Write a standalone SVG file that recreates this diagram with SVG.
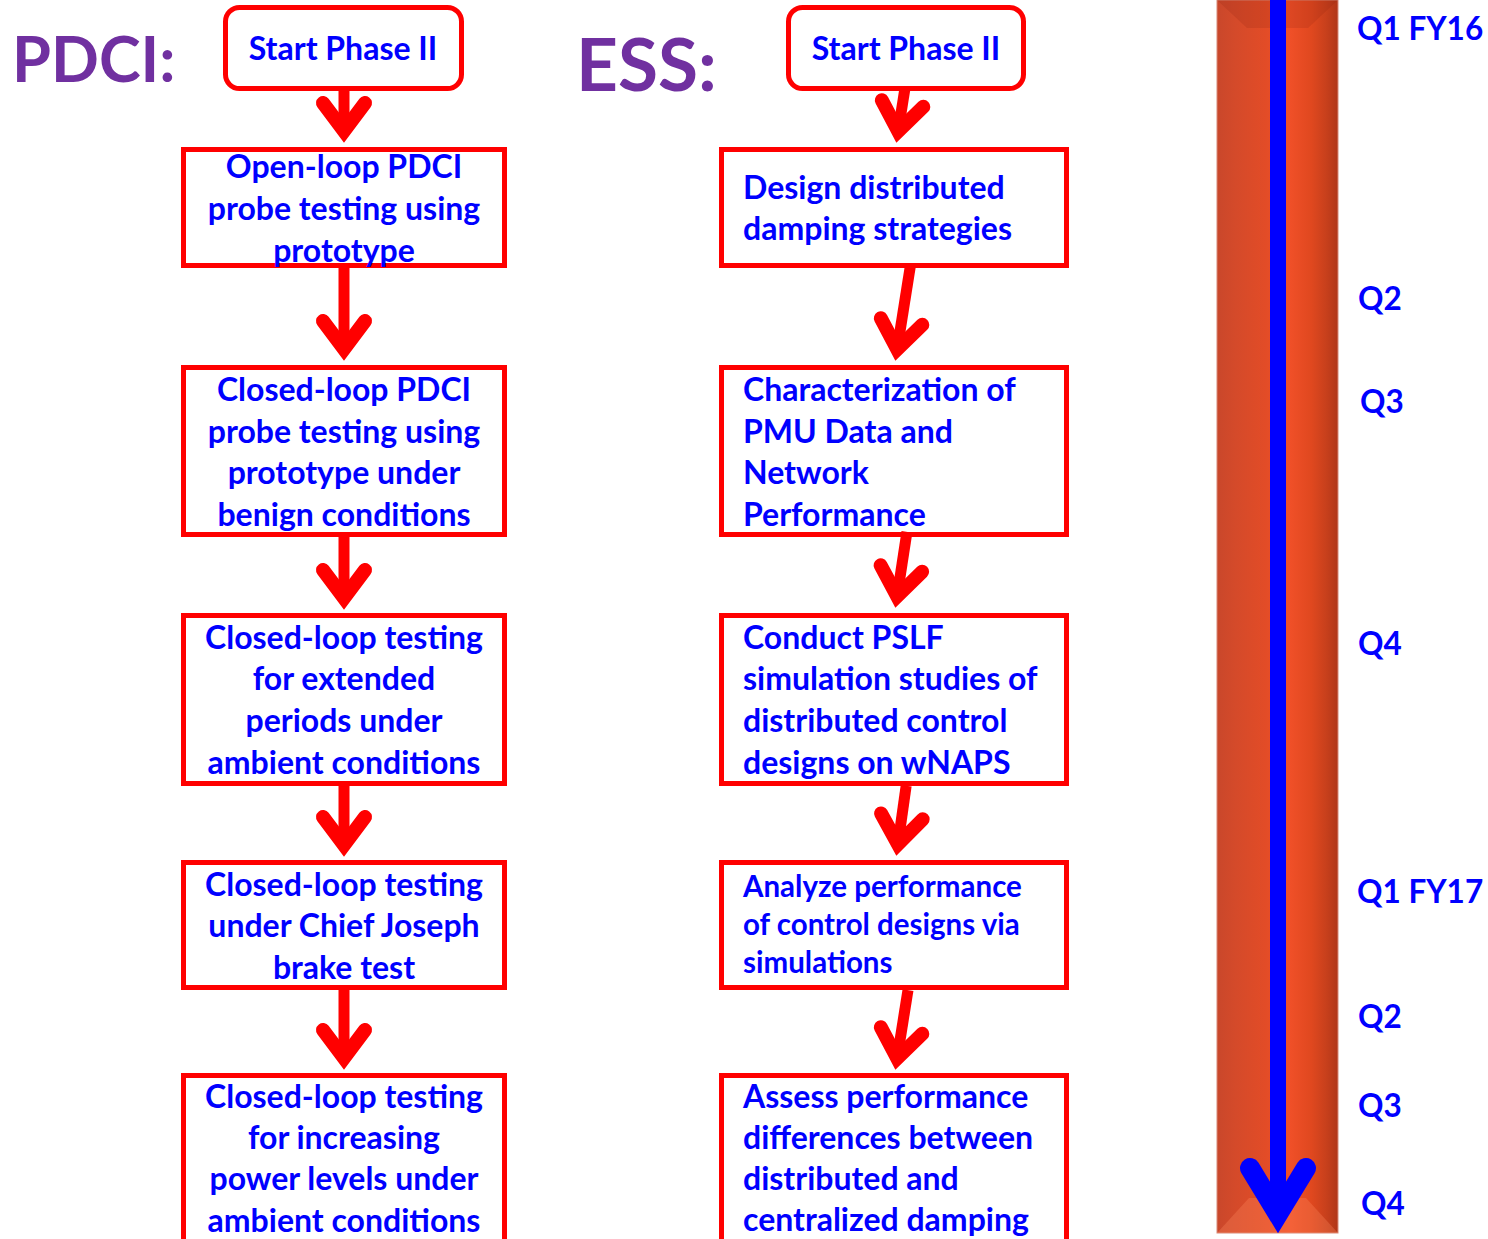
<svg xmlns="http://www.w3.org/2000/svg" width="1488" height="1239" viewBox="0 0 1488 1239">
<defs>
<style>
.box{fill:#ffffff;stroke:#ff0000;stroke-width:5}
.t{font-family:Lato,"Liberation Sans",sans-serif;font-weight:bold;font-size:32px;fill:#0000ff}
.c{text-anchor:middle}
.s{font-size:29.5px}
.ttl{font-family:Lato,"Liberation Sans",sans-serif;font-weight:bold;fill:#7030a0}
.q{font-family:Lato,"Liberation Sans",sans-serif;font-weight:bold;font-size:31.5px;fill:#0000ff}
.shaft{stroke:#ff0000;stroke-width:11;fill:none}
.head{stroke:#ff0000;stroke-width:14;fill:none;stroke-linecap:round;stroke-linejoin:miter}
</style>
<linearGradient id="bar" x1="0" y1="0" x2="1" y2="0">
<stop offset="0" stop-color="#c9472b"/>
<stop offset="0.15" stop-color="#d44a2a"/>
<stop offset="0.4" stop-color="#e24c27"/>
<stop offset="0.6" stop-color="#f05028"/>
<stop offset="0.78" stop-color="#e0481f"/>
<stop offset="0.9" stop-color="#c8401c"/>
<stop offset="1" stop-color="#b03618"/>
</linearGradient>
</defs>

<g id="timeline">
<rect x="1217" y="0" width="121" height="1233" fill="url(#bar)" stroke="#d88a78" stroke-width="1"/>
<polygon points="1217,0 1338,0 1308,28 1247,28" fill="#8a2010" opacity="0.18"/>
<polygon points="1217,1233 1338,1233 1306,1198 1249,1198" fill="#ff8a60" opacity="0.3"/>
<rect x="1270" y="0" width="16" height="1200" fill="#0000ff"/>
<polyline points="1250,1168 1278,1214 1306,1168" fill="none" stroke="#0000ff" stroke-width="20" stroke-linecap="round" stroke-linejoin="miter"/>
</g>

<g id="labels">
<text class="ttl" x="12" y="82" font-size="63">PDCI:</text>
<text class="ttl" x="576" y="91" font-size="73">ESS:</text>
<text class="q" x="1357" y="40">Q1 FY16</text>
<text class="q" x="1358" y="310">Q2</text>
<text class="q" x="1360" y="413">Q3</text>
<text class="q" x="1358" y="655">Q4</text>
<text class="q" x="1357" y="903">Q1 FY17</text>
<text class="q" x="1358" y="1028">Q2</text>
<text class="q" x="1358" y="1117">Q3</text>
<text class="q" x="1361" y="1215">Q4</text>
</g>

<g id="pdci-start">
<rect class="box" x="225.5" y="7.5" width="236" height="81" rx="14"/>
<text class="t c" x="343" y="60">Start Phase II</text>
</g>
<g id="pdci-1">
<rect class="box" x="183.5" y="149.5" width="321" height="116"/>
<text class="t c" x="344" y="178">Open-loop PDCI</text>
<text class="t c" x="344" y="220">probe testing using</text>
<text class="t c" x="344" y="262">prototype</text>
</g>
<g id="pdci-2">
<rect class="box" x="183.5" y="367.5" width="321" height="167"/>
<text class="t c" x="344" y="401">Closed-loop PDCI</text>
<text class="t c" x="344" y="443">probe testing using</text>
<text class="t c" x="344" y="484">prototype under</text>
<text class="t c" x="344" y="526">benign conditions</text>
</g>
<g id="pdci-3">
<rect class="box" x="183.5" y="615.5" width="321" height="168"/>
<text class="t c" x="344" y="649">Closed-loop testing</text>
<text class="t c" x="344" y="690">for extended</text>
<text class="t c" x="344" y="732">periods under</text>
<text class="t c" x="344" y="774">ambient conditions</text>
</g>
<g id="pdci-4">
<rect class="box" x="183.5" y="862.5" width="321" height="125"/>
<text class="t c" x="344" y="896">Closed-loop testing</text>
<text class="t c" x="344" y="937">under Chief Joseph</text>
<text class="t c" x="344" y="979">brake test</text>
</g>
<g id="pdci-5">
<rect class="box" x="183.5" y="1075.5" width="321" height="170"/>
<text class="t c" x="344" y="1108">Closed-loop testing</text>
<text class="t c" x="344" y="1149">for increasing</text>
<text class="t c" x="344" y="1190">power levels under</text>
<text class="t c" x="344" y="1232">ambient conditions</text>
</g>

<g id="ess-start">
<rect class="box" x="788.5" y="7.5" width="235" height="81" rx="14"/>
<text class="t c" x="906" y="60">Start Phase II</text>
</g>
<g id="ess-1">
<rect class="box" x="721.5" y="149.5" width="345" height="116"/>
<text class="t" x="743" y="199">Design distributed</text>
<text class="t" x="743" y="240">damping strategies</text>
</g>
<g id="ess-2">
<rect class="box" x="721.5" y="367.5" width="345" height="167"/>
<text class="t" x="743" y="401">Characterization of</text>
<text class="t" x="743" y="443">PMU Data and</text>
<text class="t" x="743" y="484">Network</text>
<text class="t" x="743" y="526">Performance</text>
</g>
<g id="ess-3">
<rect class="box" x="721.5" y="615.5" width="345" height="168"/>
<text class="t" x="743" y="649">Conduct PSLF</text>
<text class="t" x="743" y="690">simulation studies of</text>
<text class="t" x="743" y="732">distributed control</text>
<text class="t" x="743" y="774">designs on wNAPS</text>
</g>
<g id="ess-4">
<rect class="box" x="721.5" y="862.5" width="345" height="125"/>
<text class="t s" x="743" y="897">Analyze performance</text>
<text class="t s" x="743" y="935">of control designs via</text>
<text class="t s" x="743" y="973">simulations</text>
</g>
<g id="ess-5">
<rect class="box" x="721.5" y="1075.5" width="345" height="170"/>
<text class="t" x="743" y="1108">Assess performance</text>
<text class="t" x="743" y="1149">differences between</text>
<text class="t" x="743" y="1190">distributed and</text>
<text class="t" x="743" y="1231">centralized damping</text>
</g>

<g id="connectors">
<g transform="translate(344,145)"><line class="shaft" x1="0" y1="-57" x2="0" y2="-18"/><polyline class="head" points="-21,-42 0,-14 21,-42"/></g>
<g transform="translate(344,363)"><line class="shaft" x1="0" y1="-97" x2="0" y2="-18"/><polyline class="head" points="-21,-42 0,-14 21,-42"/></g>
<g transform="translate(344,612)"><line class="shaft" x1="0" y1="-77" x2="0" y2="-18"/><polyline class="head" points="-21,-42 0,-14 21,-42"/></g>
<g transform="translate(344,859)"><line class="shaft" x1="0" y1="-74" x2="0" y2="-18"/><polyline class="head" points="-21,-42 0,-14 21,-42"/></g>
<g transform="translate(344,1072)"><line class="shaft" x1="0" y1="-83" x2="0" y2="-18"/><polyline class="head" points="-21,-42 0,-14 21,-42"/></g>

<g transform="translate(896,145) rotate(9)"><line class="shaft" x1="0" y1="-56" x2="0" y2="-18"/><polyline class="head" points="-21,-42 0,-14 21,-42"/></g>
<g transform="translate(895,363) rotate(9)"><line class="shaft" x1="0" y1="-97" x2="0" y2="-18"/><polyline class="head" points="-21,-42 0,-14 21,-42"/></g>
<g transform="translate(895,610) rotate(8.7)"><line class="shaft" x1="0" y1="-79" x2="0" y2="-18"/><polyline class="head" points="-21,-42 0,-14 21,-42"/></g>
<g transform="translate(896,858) rotate(8)"><line class="shaft" x1="0" y1="-73" x2="0" y2="-18"/><polyline class="head" points="-21,-42 0,-14 21,-42"/></g>
<g transform="translate(895,1072) rotate(9)"><line class="shaft" x1="0" y1="-83" x2="0" y2="-18"/><polyline class="head" points="-21,-42 0,-14 21,-42"/></g>
</g>
</svg>
